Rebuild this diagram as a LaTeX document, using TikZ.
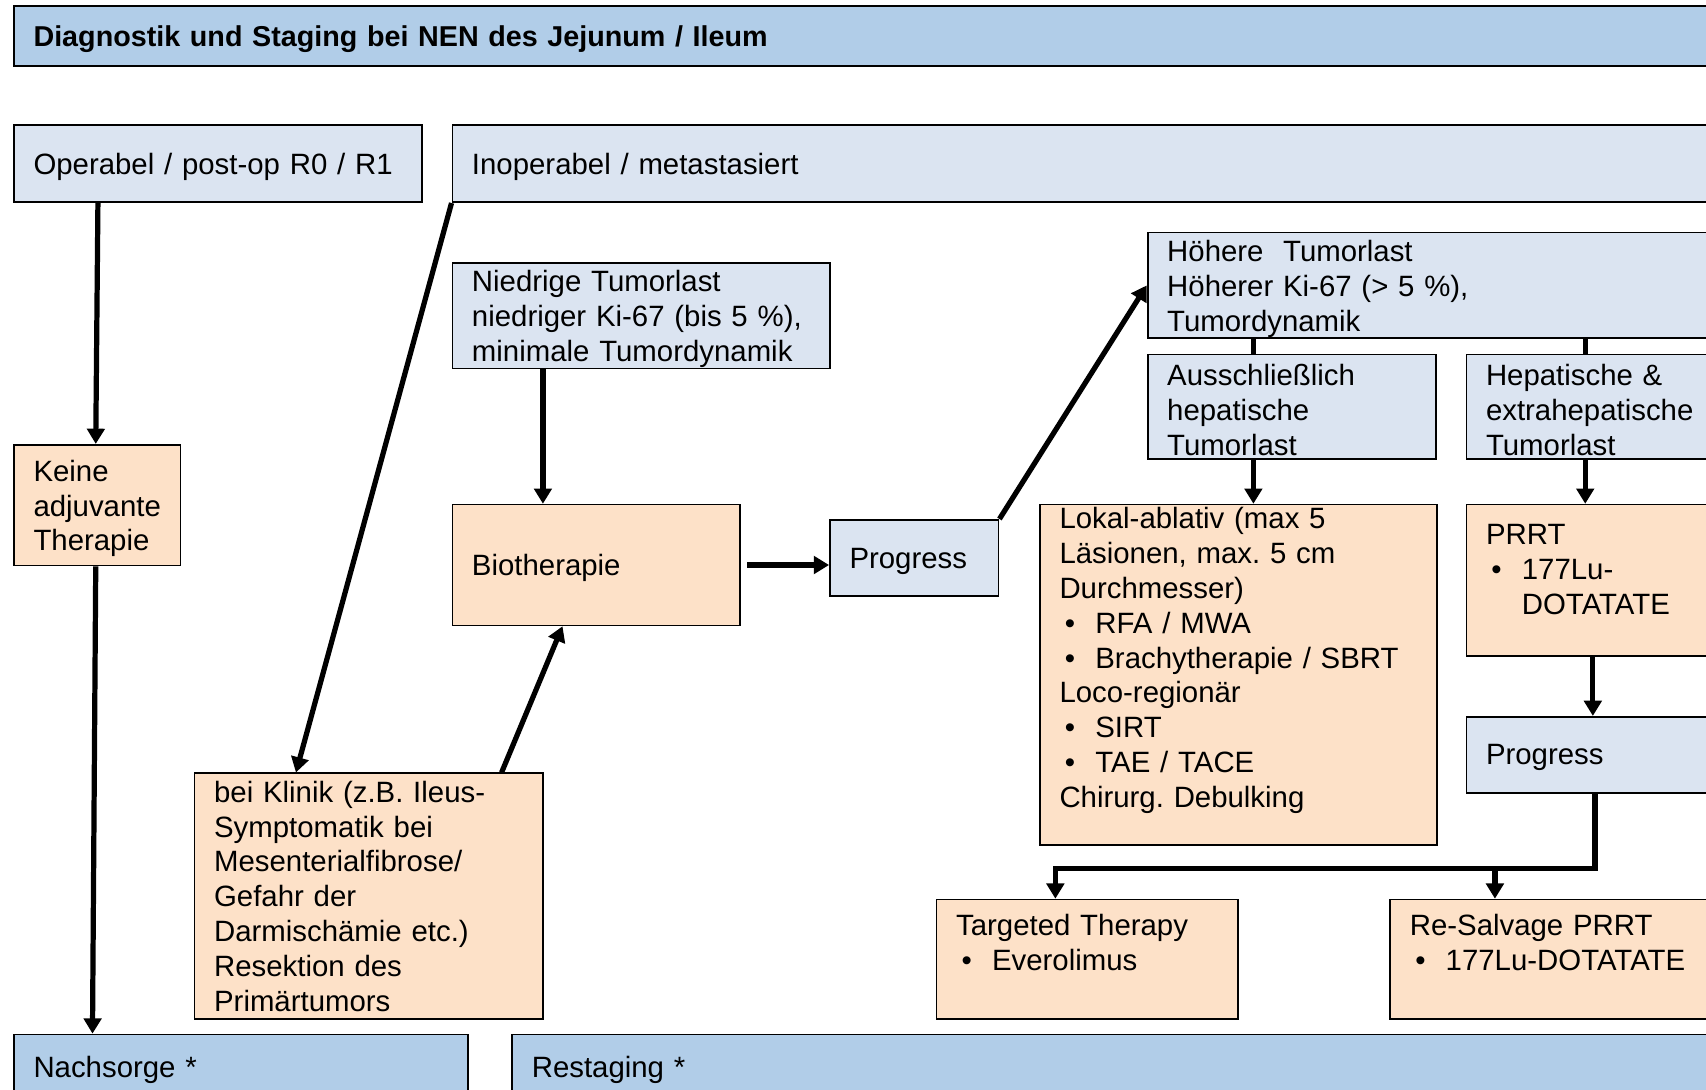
\documentclass[tikz,border=0pt]{standalone}
\usepackage{fontspec}
\setmainfont{Liberation Sans}
\usetikzlibrary{arrows.meta}

\definecolor{titelblau}{HTML}{B1CDE8}
\definecolor{hellblau}{HTML}{DBE4F1}
\definecolor{pfirsich}{HTML}{FDE1C8}

\newcommand{\punkt}[1]{\makebox[16.5pt][l]{\hspace{2.5pt}\textbullet}#1}
\newcommand{\einzug}[1]{\hspace*{16.5pt}#1}
\newcommand{\textende}{\par\vspace*{-3pt}}

\begin{document}
\frenchspacing
\begin{tikzpicture}[x=1pt,y=-1pt]
	\tikzstyle{kasten}=[draw=black,line width=0.8pt,anchor=north west,inner xsep=9pt,inner ysep=0pt,align=left,font=\fontsize{13.5}{16}\selectfont,execute at end node=\textende]
	\tikzstyle{hell}=[kasten,fill=hellblau]
	\tikzstyle{dunkel}=[kasten,fill=titelblau]
	\tikzstyle{therapie}=[kasten,fill=pfirsich]
	\tikzstyle{pfeil}=[-{Triangle[length=7pt,width=8pt]},line width=2.4pt]
	\tikzstyle{linie}=[line width=2.4pt]
	
	\useasboundingbox (0,0) rectangle (784,500.5);
	
	\node[dunkel,text width=776pt,minimum height=27.5pt,font=\fontsize{13.2}{16}\selectfont\bfseries] (titel) at (6,2.5) {Diagnostik und Staging bei NEN des Jejunum / Ileum};
	
	\node[hell,text width=169.5pt,minimum height=35.5pt] (oper) at (6,57) {Operabel / post-op R0 / R1};
	\node[hell,text width=574.5pt,minimum height=35.5pt] (inop) at (207.5,57) {Inoperabel / metastasiert};
	
	\node[therapie,text width=58.5pt,minimum height=55.5pt] (keine) at (6,204) {Keine\\adjuvante\\Therapie};
	\node[hell,text width=155.5pt,minimum height=48.5pt] (nied) at (207.5,120.5) {Niedrige Tumorlast\\niedriger Ki-67 (bis 5 \%),\\minimale Tumordynamik};
	\node[therapie,text width=114pt,minimum height=55.5pt] (bio) at (207.5,231.5) {Biotherapie};
	\node[hell,text width=59.5pt,minimum height=35pt] (prog1) at (381,238.5) {Progress};
	\node[therapie,text width=142pt,minimum height=113pt,execute at end node={\vspace*{3pt}}] (klinik) at (89,355) {bei Klinik (z.B. Ileus-\\Symptomatik bei\\Mesenterialfibrose/\\Gefahr der\\Darmischämie etc.)\\Resektion des\\Primärtumors};
	
	\node[hell,text width=255pt,minimum height=48.5pt] (hoeh) at (527,106.5) {Höhere\ \ Tumorlast\\Höherer Ki-67 (> 5 \%),\\Tumordynamik};
	\node[hell,text width=114.5pt,minimum height=48pt] (aus) at (527,162.5) {Ausschließlich\\hepatische\\Tumorlast};
	\node[hell,text width=108.5pt,minimum height=48pt] (hep) at (673.5,162.5) {Hepatische \&\\extrahepatische\\Tumorlast};
	
	\node[therapie,text width=164.5pt,minimum height=156.5pt] (lokal) at (477.5,231.5) {Lokal-ablativ (max 5\\Läsionen, max. 5 cm\\Durchmesser)\\\punkt{RFA / MWA}\\\punkt{Brachytherapie / SBRT}\\Loco-regionär\\\punkt{SIRT}\\\punkt{TAE / TACE}\\Chirurg. Debulking\\[3pt]\mbox{}};
	\node[therapie,text width=108.5pt,minimum height=69.5pt] (prrt) at (673.5,231.5) {PRRT\\\punkt{177Lu-}\\\einzug{DOTATATE}\\[-3pt]\mbox{}};
	\node[hell,text width=108.5pt,minimum height=35pt] (prog2) at (673.5,329) {Progress};
	
	\node[therapie,text width=120.5pt,minimum height=55pt] (targ) at (430,413) {Targeted Therapy\\\punkt{Everolimus}\\[3pt]\mbox{}};
	\node[therapie,text width=143.5pt,minimum height=55pt] (resal) at (638.5,413) {Re-Salvage PRRT\\\punkt{177Lu-DOTATATE}\\[3pt]\mbox{}};
	
	\node[dunkel,text width=190.5pt,minimum height=30pt] (nach) at (6,475) {Nachsorge *};
	\node[dunkel,text width=547pt,minimum height=30pt] (rest) at (235,475) {Restaging *};
	
	% linke Seite
	\draw[pfeil] ([xshift=39pt]oper.south west) -- ([xshift=38pt]keine.north west);
	\draw[pfeil] ([xshift=38pt]keine.south west) -- ([xshift=36.5pt]nach.north west);
	\draw[pfeil] (inop.south west) -- ([xshift=47pt]klinik.north west);
	\draw[pfeil] ([xshift=141.5pt]klinik.north west) -- ([xshift=51pt]bio.south west);
	
	% Mitte
	\draw[pfeil] ([xshift=42pt]nied.south west) -- ([xshift=42pt]bio.north west);
	\draw[pfeil] ([xshift=3pt]bio.east) -- (bio.east -| prog1.west);
	\draw[pfeil] (prog1.north east) -- (hoeh.west);
	
	% rechte Seite
	\draw[linie] ([xshift=49pt]hoeh.south west) -- ([xshift=49pt]aus.north west);
	\draw[linie] ([xshift=201.5pt]hoeh.south west) -- ([xshift=55pt]hep.north west);
	\draw[pfeil] ([xshift=49pt]aus.south west) -- ([xshift=98.5pt]lokal.north west);
	\draw[pfeil] ([xshift=55pt]hep.south west) -- ([xshift=55pt]prrt.north west);
	\draw[pfeil] ([xshift=58.5pt]prrt.south west) -- ([xshift=58.5pt]prog2.north west);
	
	\coordinate (verteiler) at (0,399);
	\coordinate (ziel1) at ([xshift=55pt]targ.north west);
	\coordinate (ziel2) at ([xshift=48.5pt]resal.north west);
	\draw[pfeil] ([xshift=59.5pt]prog2.south west) |- (ziel1 |- verteiler) -- (ziel1);
	\draw[pfeil] (ziel2 |- verteiler) -- (ziel2);
\end{tikzpicture}
\end{document}
